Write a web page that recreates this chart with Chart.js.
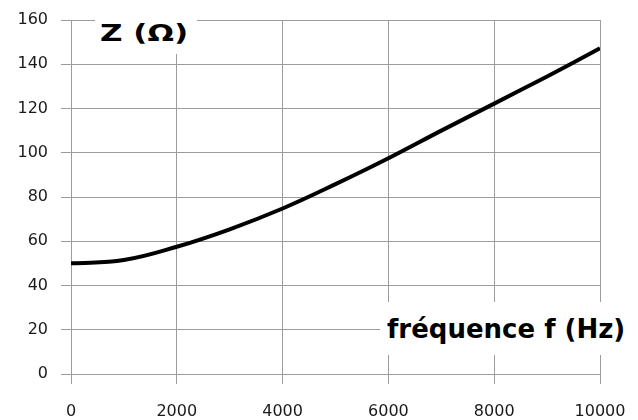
<!DOCTYPE html>
<html>
<head>
<meta charset="utf-8">
<script src="https://cdn.jsdelivr.net/npm/chart.js@4"></script>
<style>
  html, body { margin: 0; padding: 0; background: #fff; }
  #wrap { position: relative; width: 638px; height: 420px; }
  .axis-title {
    position: absolute;
    background: #fff;
    font-family: "DejaVu Sans", sans-serif;
    font-weight: bold;
    color: #000;
    white-space: nowrap;
    box-sizing: border-box;
  }
  #ztitle { left: 95px; top: 8px; width: 102px; height: 46px; padding: 12px 0 0 5px; font-size: 23px; }
  #ztitle span { display: inline-block; transform: scaleX(1.35); transform-origin: left center; }
  #ftitle { left: 380px; top: 302px; width: 258px; height: 53px; padding: 12px 0 0 7px; font-size: 26px; }
</style>
</head>
<body>
<div id="wrap">
  <canvas id="chart"></canvas>
  <div id="ztitle" class="axis-title"><span>Z (Ω)</span></div>
  <div id="ftitle" class="axis-title">fréquence f (Hz)</div>
</div>
<script>
// values (f in Hz, Z in ohms)
const frequencies = [0, 1000, 2000, 3000, 4000, 5000, 6000, 7000, 8000, 9000, 10000];
const impedances = [50, 51.5, 57.5, 65.4, 74.8, 85.8, 97.5, 110, 122.2, 134.5, 147.2];

const xTicks = [0, 2000, 4000, 6000, 8000, 10000];
const yTicks = [0, 20, 40, 60, 80, 100, 120, 140, 160];

const gridGrey = '#9c9c9c';
const tickFont = { family: 'DejaVu Sans', size: 16 };

const points = frequencies.map((f, i) => ({ x: f, y: impedances[i] }));

new Chart(document.getElementById('chart'), {
  type: 'line',
  data: {
    datasets: [{
      data: points,
      borderColor: '#000',
      borderWidth: 4,
      pointRadius: 0,
      tension: 0.4,
      fill: false
    }]
  },
  options: {
    responsive: true,
    maintainAspectRatio: false,
    animation: false,
    layout: { padding: { top: 20, right: 38, left: 0, bottom: 0 } },
    plugins: { legend: { display: false }, tooltip: { enabled: false } },
    scales: {
      x: {
        type: 'linear',
        min: xTicks[0],
        max: xTicks[xTicks.length - 1],
        afterBuildTicks: scale => { scale.ticks = xTicks.map(v => ({ value: v })); },
        afterFit: scale => { scale.height = 46; scale.paddingLeft = 0; scale.paddingRight = 0; },
        grid: { color: gridGrey, lineWidth: 1, tickLength: 10, tickColor: gridGrey },
        border: { color: gridGrey, width: 1 },
        ticks: {
          font: tickFont, color: '#1a1a1a', padding: 18, maxRotation: 0,
          callback: value => String(value)
        }
      },
      y: {
        min: yTicks[0],
        max: yTicks[yTicks.length - 1],
        afterBuildTicks: scale => { scale.ticks = yTicks.map(v => ({ value: v })); },
        afterFit: scale => { scale.width = 71; scale.paddingTop = 0; scale.paddingBottom = 0; },
        grid: { color: gridGrey, lineWidth: 1, tickLength: 10, tickColor: gridGrey },
        border: { color: gridGrey, width: 1 },
        ticks: { font: tickFont, color: '#1a1a1a', padding: 13 }
      }
    }
  }
});
</script>
</body>
</html>
